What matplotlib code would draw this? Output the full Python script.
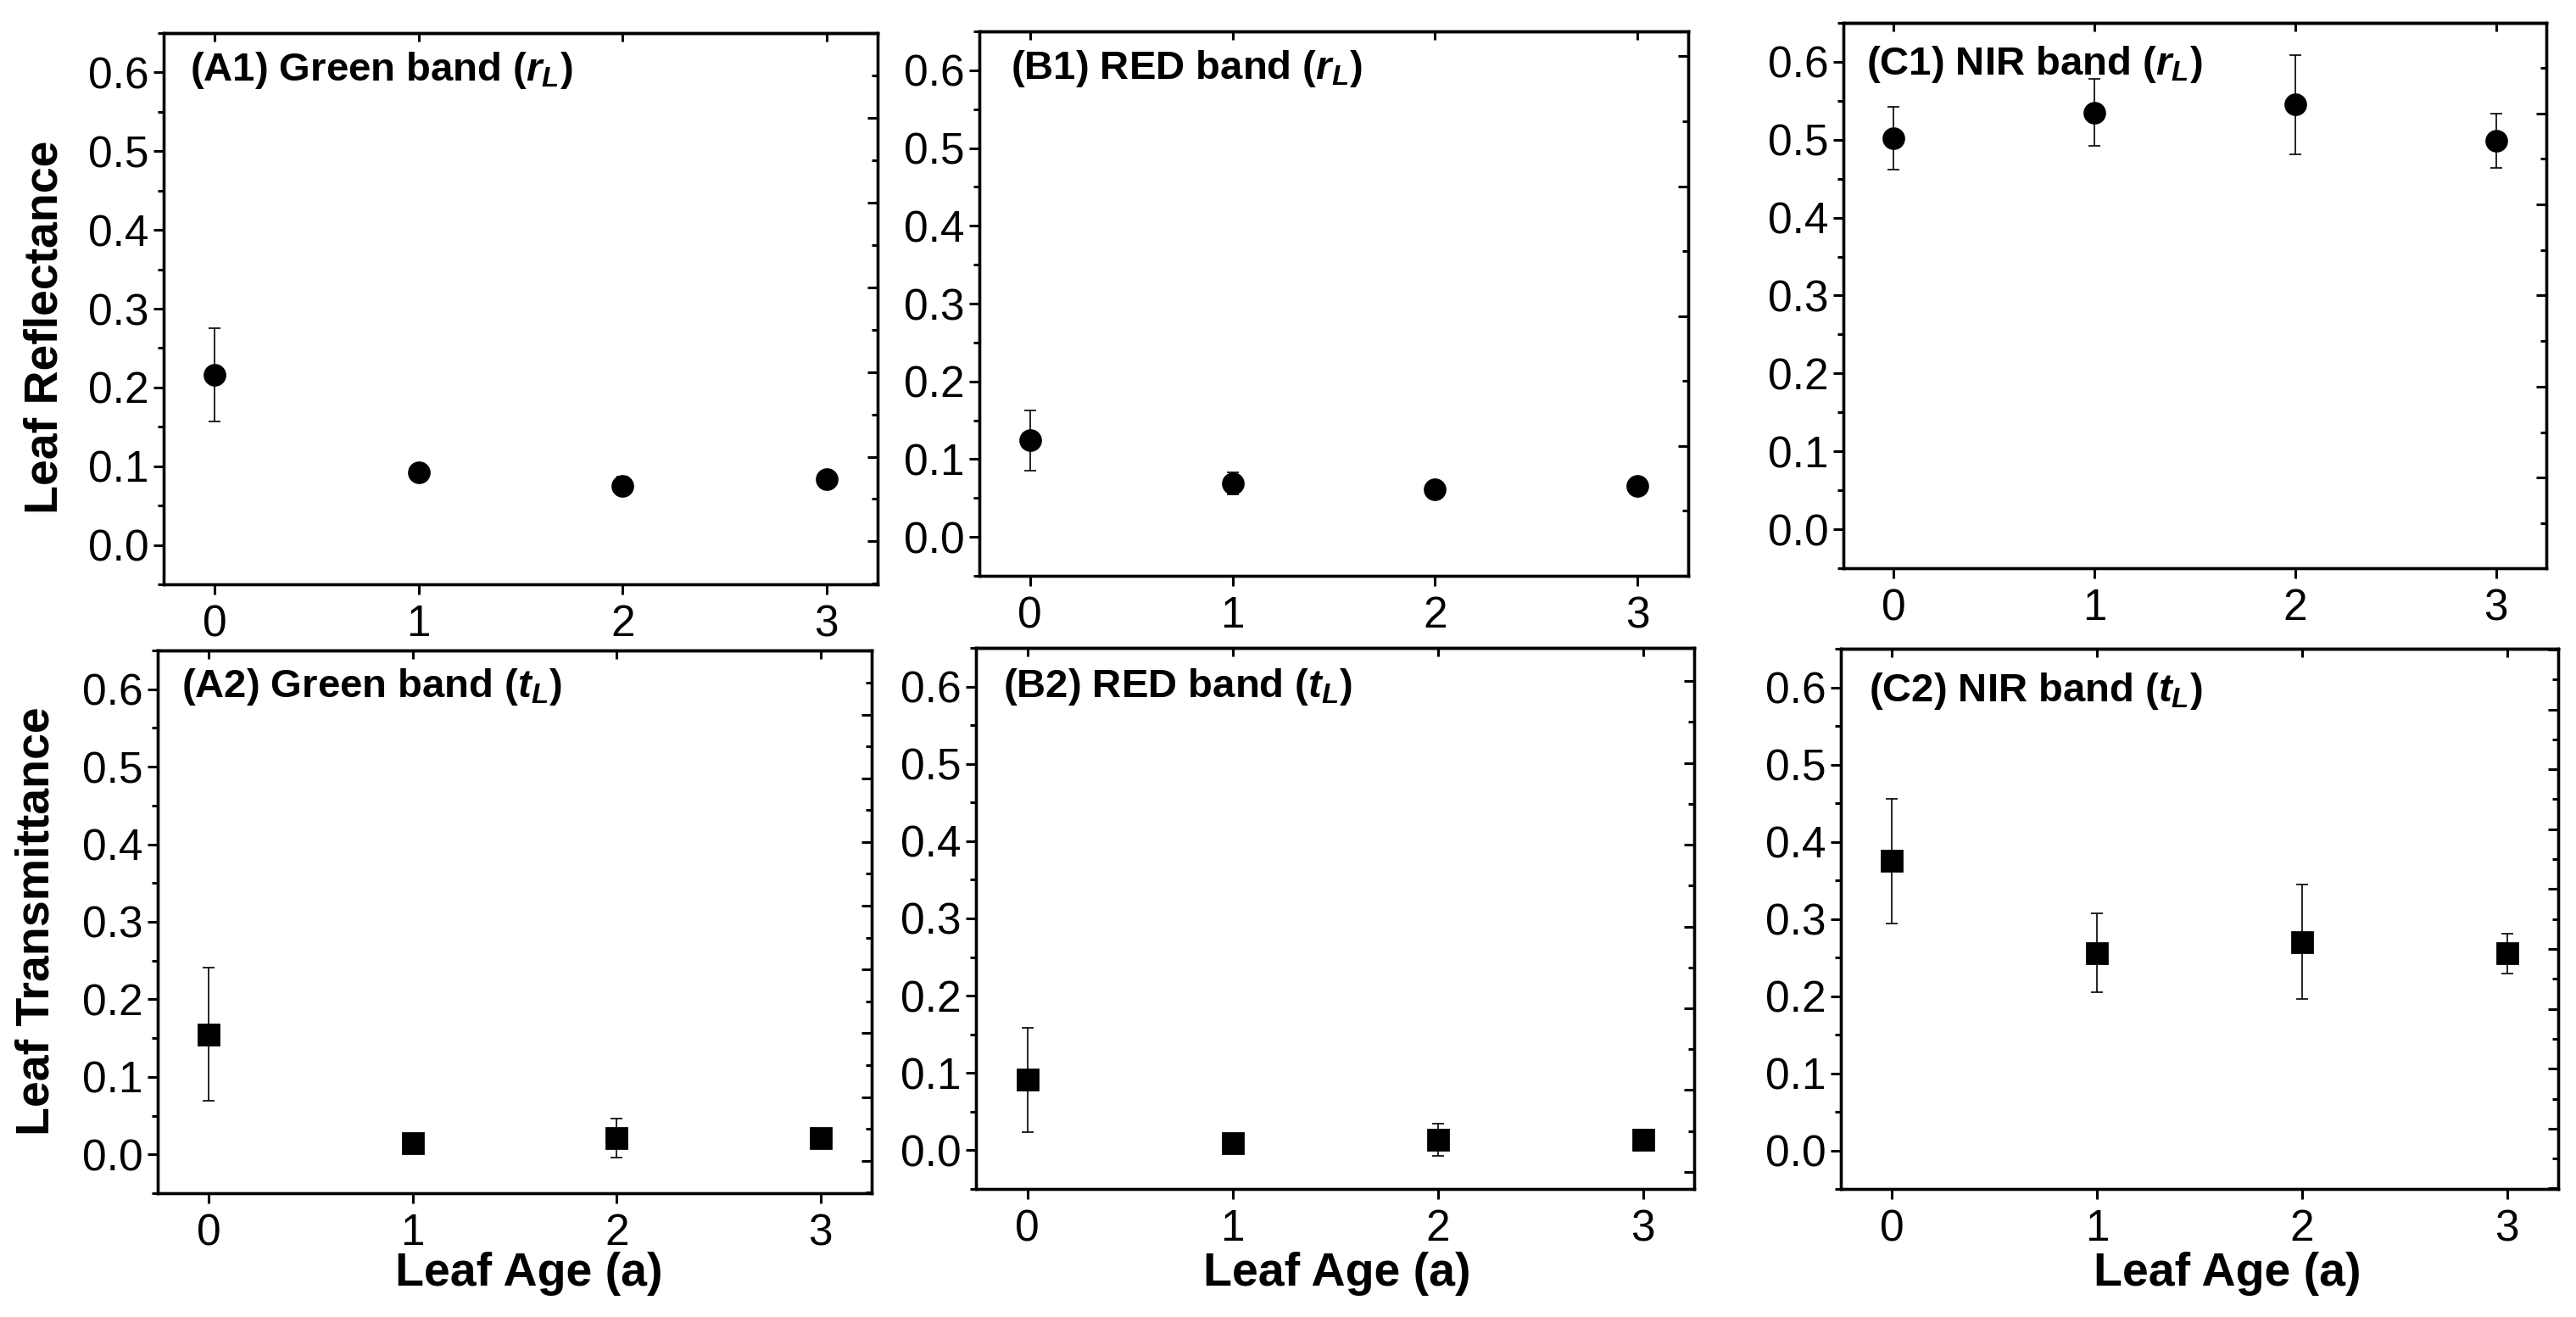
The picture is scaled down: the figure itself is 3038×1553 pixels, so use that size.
import matplotlib
matplotlib.use("Agg")
import matplotlib.pyplot as plt
from matplotlib.ticker import MultipleLocator, FormatStrFormatter

plt.rcParams['font.family'] = ['Liberation Sans', 'DejaVu Sans']
plt.rcParams['mathtext.fontset'] = 'custom'
plt.rcParams['mathtext.it'] = 'Liberation Sans:italic:bold'
plt.rcParams['mathtext.rm'] = 'Liberation Sans:bold'
plt.rcParams['mathtext.bf'] = 'Liberation Sans:bold'

# data (mean +/- sd)
ages = [0, 1, 2, 3]

green_r = [0.216, 0.092, 0.075, 0.084]
green_r_err = [0.059, 0.011, 0.012, 0.008]
red_r = [0.124, 0.069, 0.061, 0.066]
red_r_err = [0.039, 0.014, 0.005, 0.005]
nir_r = [0.502, 0.535, 0.545, 0.499]
nir_r_err = [0.040, 0.043, 0.064, 0.035]

green_t = [0.155, 0.015, 0.021, 0.021]
green_t_err = [0.086, 0.005, 0.025, 0.004]
red_t = [0.091, 0.009, 0.014, 0.014]
red_t_err = [0.067, 0.003, 0.021, 0.003]
nir_t = [0.375, 0.256, 0.270, 0.255]
nir_t_err = [0.081, 0.051, 0.074, 0.026]

titles = ["(A1) Green band ($r_L$)", "(B1) RED band ($r_L$)", "(C1) NIR band ($r_L$)",
          "(A2) Green band ($t_L$)", "(B2) RED band ($t_L$)", "(C2) NIR band ($t_L$)"]

W, H = 3038, 1553
fig = plt.figure(figsize=(W / 200, H / 200), dpi=200, facecolor="white")

# axes boxes in pixels: left, top, right, bottom
boxes = [(193, 39, 1035, 689), (1155, 37, 1991, 679), (2174, 27, 3003, 670),
         (186, 767, 1028, 1407), (1151, 764, 1998, 1402), (2171, 765, 3017, 1402)]
title_pos = [(0.037, 0.914), (0.044, 0.913), (0.033, 0.905),
             (0.033, 0.914), (0.038, 0.909), (0.039, 0.903)]
# Origin-style opposite axis ticks (major step, offset)
right_ticks = [(0.1075, 0.0045), (0.167, 0.117), (0.117, 0.066),
               (0.0822, 0.0741), (0.1058, 0.0779), (0.0776, 0.0282)]

series = [(green_r, green_r_err, 'o'), (red_r, red_r_err, 'o'), (nir_r, nir_r_err, 'o'),
          (green_t, green_t_err, 's'), (red_t, red_t_err, 's'), (nir_t, nir_t_err, 's')]

for i, (l, t, r, b) in enumerate(boxes):
    ax = fig.add_axes([l / W, 1 - b / H, (r - l) / W, (b - t) / H])
    vals, errs, mk = series[i]
    ax.errorbar(ages, vals, yerr=errs, fmt=mk, color='black',
                ms=8.6 if mk == 'o' else 8.3, ecolor='black',
                elinewidth=0.6, capsize=2.6, capthick=0.6)
    ax.set_xlim(-0.25, 3.25)
    ax.set_ylim(-0.05, 0.65)
    ax.set_xticks(ages)
    ax.yaxis.set_major_locator(MultipleLocator(0.1))
    ax.yaxis.set_minor_locator(MultipleLocator(0.05))
    ax.yaxis.set_major_formatter(FormatStrFormatter('%.1f'))
    ax.tick_params(axis='y', which='major', direction='out', length=4.3, width=1.1,
                   labelsize=18.5, pad=2, right=False)
    ax.tick_params(axis='y', which='minor', direction='out', length=2.5, width=1.1, right=False)
    ax.tick_params(axis='x', direction='out', length=4.3, width=1.1,
                   labelsize=18.5, pad=4, top=False)
    for s in ax.spines.values():
        s.set_linewidth(1.2)

    top = ax.secondary_xaxis('top')
    top.set_xticks(ages)
    top.tick_params(direction='in', length=3.6, width=1.1, labeltop=False)
    top.spines['top'].set_linewidth(1.2)

    step, off = right_ticks[i]
    tw = ax.twinx()
    tw.set_ylim(-0.05, 0.65)
    tw.yaxis.set_major_locator(MultipleLocator(step, offset=off))
    tw.yaxis.set_minor_locator(MultipleLocator(step / 2, offset=off))
    tw.tick_params(axis='y', which='major', direction='in', length=4.3, width=1.1, labelright=False)
    tw.tick_params(axis='y', which='minor', direction='in', length=2.4, width=1.1)
    for s in tw.spines.values():
        s.set_linewidth(1.2)

    fx, fy = title_pos[i]
    ax.text(fx, fy, titles[i], transform=ax.transAxes, fontsize=17,
            fontweight='bold', ha='left', va='baseline')


def px(x, y):
    return x / W, 1 - y / H


fig.text(*px(54, 386), "Leaf Reflectance", rotation=90, ha='center', va='center',
         fontsize=20, fontweight='bold')
fig.text(*px(44, 1086), "Leaf Transmittance", rotation=90, ha='center', va='center',
         fontsize=20, fontweight='bold')
for cx in [624, 1577, 2627]:
    fig.text(*px(cx, 1476), "Leaf Age (a)", ha='center', va='top',
             fontsize=20, fontweight='bold')

fig.savefig("out.png", dpi=200, facecolor="white")
